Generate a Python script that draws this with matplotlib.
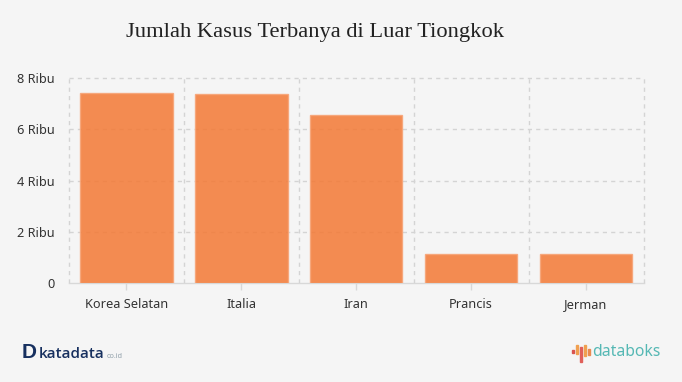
import numpy as np
import matplotlib
matplotlib.use('Agg')
import matplotlib.pyplot as plt
from matplotlib.patches import Rectangle

categories = ['Korea Selatan', 'Italia', 'Iran', 'Prancis', 'Jerman']
values = [7.41, 7.36, 6.56, 1.13, 1.13]
yticks = [0, 2, 4, 6, 8]
ytick_labels = ['0', '2 Ribu', '4 Ribu', '6 Ribu', '8 Ribu']

W, H = 682, 382
bg = '#f5f5f5'
grid_col = '#d4d4d4'

fig = plt.figure(figsize=(W/100, H/100), dpi=100)
fig.set_facecolor(bg)
ax = fig.add_axes([69/W, 1-283/H, (643.5-69)/W, (283-78)/H])
ax.set_facecolor(bg)

x = np.arange(len(categories))
ax.bar(x, values, width=0.805, color='#f37b38', edgecolor='#f7a477', linewidth=1, zorder=3, alpha=0.87)

ax.set_xlim(-0.5, 4.5)
ax.set_ylim(0, 8)
ax.set_yticks(yticks)
ax.set_yticklabels(ytick_labels)
ax.set_xticks(x)
ax.set_xticklabels(categories)
ax.tick_params(axis='y', length=0, pad=10, labelsize=9.2, labelcolor='#333333')
ax.tick_params(axis='x', length=5, width=1, color='#d8d8d8', pad=6, labelsize=9.2, labelcolor='#333333')
for lab in ax.get_xticklabels() + ax.get_yticklabels():
    lab.set_fontfamily('Noto Sans')

# grid, vertical lines sit on the category borders
for t in yticks[1:]:
    ax.axhline(t, color=grid_col, linestyle=(0, (3, 3)), linewidth=1, zorder=1, clip_on=False)
for b in np.arange(-0.5, 5, 1):
    ax.axvline(b, color=grid_col, linestyle=(0, (3, 3)), linewidth=1, zorder=1, clip_on=False)
for s in ax.spines.values():
    s.set_visible(False)
ax.axhline(0, color='#d8d8d8', linewidth=1, zorder=2, clip_on=False)

fig.text(315.5/W, 1-33/H, 'Jumlah Kasus Terbanya di Luar Tiongkok', ha='center', va='center',
         fontsize=16.2, family='Liberation Serif', color='#222222')

# katadata logo
navy = '#17305f'
fig.text(21.5/W, 1-352.5/H, 'D', ha='left', va='center', fontsize=15, family='Liberation Sans', weight='bold', color=navy)
fig.text(39/W, 1-354/H, 'katadata', ha='left', va='center', fontsize=11, family='Open Sans', weight='semibold', color=navy)
fig.text(107/W, 1-356.5/H, 'co.id', ha='left', va='center', fontsize=5.2, family='Open Sans', color='#8a9aa5')

# databoks logo
bar_x = [572, 576, 580, 584, 588]
bar_top = [350, 345, 347, 345, 349]
bar_bot = [353, 354, 362, 356, 355]
bar_col = ['#d9534f', '#f0a050', '#e0605a', '#f0a050', '#e98a50']
for bx, t, b, c in zip(bar_x, bar_top, bar_bot, bar_col):
    fig.patches.append(Rectangle((bx/W, 1-b/H), 2/W, (b-t)/H, transform=fig.transFigure, color=c))
fig.text(592.5/W, 1-352.5/H, 'databoks', ha='left', va='center', fontsize=11.3, family='Noto Sans',
         weight='bold', color='#55b8b4')

fig.savefig('out.png', dpi=100, facecolor=bg)
